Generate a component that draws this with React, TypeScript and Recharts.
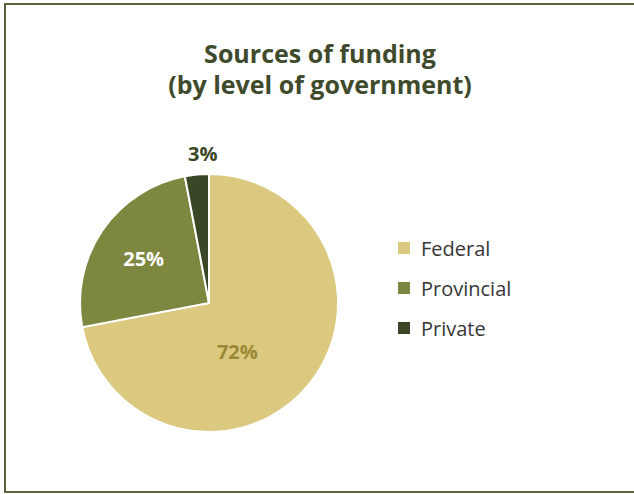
import { PieChart, Pie, Cell } from "recharts"

const categories = ["Federal", "Provincial", "Private"]
const shares = [72, 25, 3]
const colors = ["#DBC97F", "#7E873F", "#3A4726"]

const data = categories.map((name, i) => ({ name, value: shares[i], color: colors[i] }))

const RAD = Math.PI / 180

// per-slice label placement (radius, angle tweak) and colour
const labelStyle = [
  { r: 56, da: -20, fill: "#9A8834" },
  { r: 79, da: 0, fill: "#FFFFFF" },
  { r: 150, da: -3, fill: "#3A4726" },
]

const renderLabel = (props: any) => {
  const { cx, cy, midAngle, index, value } = props
  const s = labelStyle[index]
  const a = (midAngle + s.da) * RAD
  const x = cx + s.r * Math.cos(a)
  const y = cy - s.r * Math.sin(a)
  return (
    <text
      x={x}
      y={y}
      fill={s.fill}
      textAnchor="middle"
      dominantBaseline="central"
      fontFamily="'Open Sans', sans-serif"
      fontWeight={700}
      fontSize={20}
    >
      {`${value}%`}
    </text>
  )
}

export default function App() {
  return (
    <div style={{ position: "absolute", left: 0, top: 0, width: 634, height: 494, overflow: "hidden", background: "#fff" }}>
      <div
        style={{
          position: "absolute",
          left: 4,
          top: 3,
          width: 660,
          height: 486,
          border: "2px solid #56663A",
        }}
      />
      <div
        style={{
          position: "absolute",
          left: 0,
          top: 38,
          width: 640,
          textAlign: "center",
          fontFamily: "'Open Sans', sans-serif",
          fontWeight: 700,
          fontSize: 25,
          lineHeight: "31px",
          color: "#3E4A2B",
        }}
      >
        Sources of funding
        <br />
        (by level of government)
      </div>
      <div style={{ position: "absolute", left: 0, top: 0 }}>
        <PieChart width={634} height={494} margin={{ top: 0, right: 0, bottom: 0, left: 0 }}>
          <Pie
            data={data}
            dataKey="value"
            nameKey="name"
            cx={209}
            cy={303}
            outerRadius={129}
            startAngle={90}
            endAngle={-270}
            stroke="#FFFFFF"
            strokeWidth={2}
            label={renderLabel}
            labelLine={false}
            isAnimationActive={false}
          >
            {data.map((d) => (
              <Cell key={d.name} fill={d.color} />
            ))}
          </Pie>
        </PieChart>
      </div>
      <div style={{ position: "absolute", left: 398, top: 228, fontFamily: "'Open Sans', sans-serif" }}>
        {data.map((d) => (
          <div key={d.name} style={{ display: "flex", alignItems: "center", height: 40 }}>
            <span style={{ flexShrink: 0, width: 12, height: 12, background: d.color, marginRight: 11 }} />
            <span style={{ fontSize: 20, color: "#363636", whiteSpace: "nowrap" }}>{d.name}</span>
          </div>
        ))}
      </div>
    </div>
  )
}
